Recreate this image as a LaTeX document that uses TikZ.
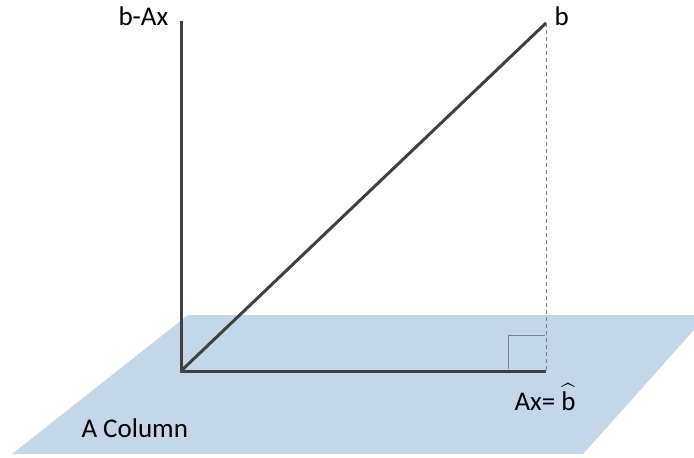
\documentclass[tikz,border=0pt]{standalone}
\usepackage{amsmath}
\usepackage{fontspec}
\setmainfont{Carlito}
\definecolor{planeblue}{HTML}{C4D7E8}
\definecolor{vecgray}{HTML}{404040}
\tikzset{lbl/.style={inner sep=0pt, anchor=base west, font=\fontsize{27}{32}\selectfont}}

\begin{document}
\begin{tikzpicture}[x=1pt,y=-1pt,line width=3pt]
  \useasboundingbox (0,0) rectangle (694,458);
  % plane: the column space of A
  \fill[planeblue] (188,315) -- (694,315) -- (694,330) -- (583,454) -- (12,454) -- cycle;
  \node[lbl] (col) at (80,437) {A Column};
  % origin, error, b and its projection
  \coordinate (O) at (181,371);
  \coordinate (e) at (181,21);
  \coordinate (b) at (546,23);
  \coordinate (p) at (546,371);
  \draw[vecgray] (e) -- (O) -- (p);
  \draw[vecgray] (O) -- (b);
  % drop from b to the plane, with right angle
  \draw[gray, line width=0.8pt, dash pattern=on 4pt off 3pt] (b) -- (p);
  \draw[gray, line width=1pt] (508,369) |- (545,335);
  \node[lbl] (elbl) at (117,25) {b-Ax};
  \node[lbl] (blbl) at (553,25) {b};
  \node[lbl] (plbl) at (513,410) {Ax= $\widehat{\mbox{b}}$};
\end{tikzpicture}
\end{document}
